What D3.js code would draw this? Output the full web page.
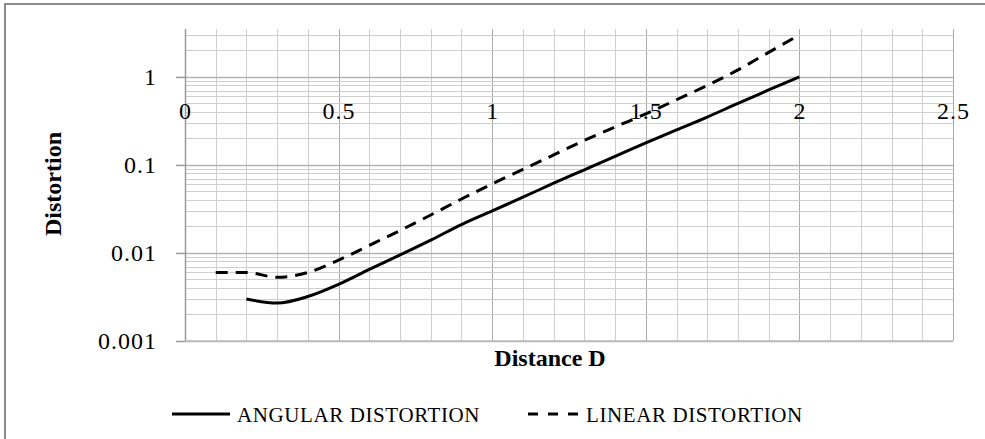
<!DOCTYPE html>
<html lang="en">
<head>
<meta charset="UTF-8">
<title>Distortion vs Distance</title>
<script src="https://d3js.org/d3.v7.min.js"></script>
<style>
  body { margin: 0; background: #fff; }
  text { font-family: "Liberation Serif", "Times New Roman", serif; fill: #000; }
</style>
</head>
<body>
<script>

    // data
    var distance = [0.1, 0.2, 0.3, 0.4, 0.5, 0.6, 0.7, 0.8, 0.9, 1.0,
                    1.1, 1.2, 1.3, 1.4, 1.5, 1.6, 1.7, 1.8, 1.9, 2.0];
    var angular = [null, 0.0030, 0.0027, 0.0032, 0.0044, 0.0065, 0.0095, 0.014, 0.021, 0.030,
                   0.043, 0.062, 0.088, 0.125, 0.178, 0.25, 0.35, 0.50, 0.71, 1.0];
    var linear = [0.0060, 0.0060, 0.0053, 0.0060, 0.0083, 0.0122, 0.018, 0.027, 0.041, 0.061,
                  0.089, 0.13, 0.19, 0.27, 0.38, 0.55, 0.80, 1.20, 1.90, 3.0];

    var xTicks = [0, 0.5, 1, 1.5, 2, 2.5];
    var xTickLabels = ['0', '0.5', '1', '1.5', '2', '2.5'];
    var yTicks = [0.001, 0.01, 0.1, 1];
    var yTickLabels = ['0.001', '0.01', '0.1', '1'];
    var seriesNames = ['ANGULAR DISTORTION', 'LINEAR DISTORTION'];

    var W = 985, H = 439;
    var svg = d3.select('body').append('svg')
        .attr('width', W)
        .attr('height', H);

    // chart border (only top/left visible in the crop)
    svg.append('rect')
        .attr('x', 5).attr('y', 4)
        .attr('width', 1000).attr('height', 500)
        .attr('fill', 'none')
        .attr('stroke', '#8c8c8c')
        .attr('stroke-width', 2);

    var x = d3.scaleLinear().domain([0, 2.5]).range([185, 953]);
    var y = d3.scaleLog().domain([0.001, 3.5]).range([341, 29]);

    // gridlines
    var grid = svg.append('g');
    var xMinor = d3.range(0, 26).map(function(i) { return i / 10; });
    grid.selectAll('line.vx')
        .data(xMinor)
        .enter().append('line')
        .attr('x1', function(d) { return Math.round(x(d)) + 0.5; })
        .attr('x2', function(d) { return Math.round(x(d)) + 0.5; })
        .attr('y1', y.range()[1])
        .attr('y2', y.range()[0])
        .attr('stroke', function(d) { return Math.abs(d * 2 - Math.round(d * 2)) < 1e-6 ? '#ababab' : '#cfcfcf'; })
        .attr('stroke-width', 1);

    var yMinor = [];
    [-3, -2, -1, 0].forEach(function(e) {
        for (var k = 1; k <= 9; k++) {
            var v = k * Math.pow(10, e);
            if (v <= 3.5) yMinor.push({ v: v, major: k === 1 });
        }
    });
    grid.selectAll('line.hy')
        .data(yMinor)
        .enter().append('line')
        .attr('x1', x.range()[0])
        .attr('x2', x.range()[1])
        .attr('y1', function(d) { return Math.round(y(d.v)) + 0.5; })
        .attr('y2', function(d) { return Math.round(y(d.v)) + 0.5; })
        .attr('stroke', function(d) { return d.major ? '#b4b4b4' : '#cfcfcf'; })
        .attr('stroke-width', function(d) { return d.major ? 1.5 : 1; });

    // plot frame
    svg.append('line')
        .attr('x1', 185.5).attr('x2', 185.5)
        .attr('y1', 29).attr('y2', 341)
        .attr('stroke', '#9a9a9a').attr('stroke-width', 1.5);
    svg.append('line')
        .attr('x1', 185).attr('x2', 953)
        .attr('y1', 341).attr('y2', 341)
        .attr('stroke', '#bdbdbd').attr('stroke-width', 1.5);

    // y axis
    var yAxis = svg.append('g')
        .attr('transform', 'translate(185,0)')
        .call(d3.axisLeft(y)
            .tickValues(yTicks)
            .tickFormat(function(d, i) { return yTickLabels[i]; })
            .tickSize(9)
            .tickSizeOuter(0)
            .tickPadding(19));
    yAxis.select('.domain').remove();
    yAxis.selectAll('.tick line').attr('stroke', '#9a9a9a').attr('stroke-width', 1.5);
    yAxis.selectAll('.tick text')
        .attr('font-family', '"Liberation Serif", serif')
        .attr('font-size', 24)
        .attr('letter-spacing', 1)
        .attr('fill', '#000');

    // x axis labels sit below the y=1 crossing
    var xAxis = svg.append('g')
        .attr('transform', 'translate(0,' + y(1) + ')')
        .call(d3.axisBottom(x)
            .tickValues(xTicks)
            .tickFormat(function(d, i) { return xTickLabels[i]; })
            .tickSize(0)
            .tickPadding(25));
    xAxis.select('.domain').remove();
    xAxis.selectAll('.tick text')
        .attr('font-family', '"Liberation Serif", serif')
        .attr('font-size', 24)
        .attr('letter-spacing', 1)
        .attr('fill', '#000');

    // series
    var line = d3.line()
        .defined(function(d) { return d[1] != null; })
        .x(function(d) { return x(d[0]); })
        .y(function(d) { return y(d[1]); })
        .curve(d3.curveMonotoneX);

    svg.append('path')
        .datum(distance.map(function(d, i) { return [d, linear[i]]; }))
        .attr('d', line)
        .attr('fill', 'none')
        .attr('stroke', '#000')
        .attr('stroke-width', 3)
        .attr('stroke-dasharray', '12,8');

    svg.append('path')
        .datum(distance.map(function(d, i) { return [d, angular[i]]; }))
        .attr('d', line)
        .attr('fill', 'none')
        .attr('stroke', '#000')
        .attr('stroke-width', 3);

    // axis titles
    svg.append('text')
        .attr('x', 550).attr('y', 366)
        .attr('text-anchor', 'middle')
        .attr('font-size', 24)
        .attr('font-weight', 'bold')
        .text('Distance D');

    svg.append('text')
        .attr('transform', 'translate(61,184) rotate(-90)')
        .attr('text-anchor', 'middle')
        .attr('font-size', 24)
        .attr('font-weight', 'bold')
        .text('Distortion');

    // legend
    var legend = svg.append('g');
    legend.append('line')
        .attr('x1', 172).attr('x2', 230)
        .attr('y1', 414).attr('y2', 414)
        .attr('stroke', '#000').attr('stroke-width', 3);
    legend.append('text')
        .attr('x', 237).attr('y', 421.5)
        .attr('font-size', 21)
        .attr('letter-spacing', 0.6)
        .text(seriesNames[0]);
    legend.append('line')
        .attr('x1', 528).attr('x2', 582)
        .attr('y1', 414).attr('y2', 414)
        .attr('stroke', '#000').attr('stroke-width', 3)
        .attr('stroke-dasharray', '10,10');
    legend.append('text')
        .attr('x', 586).attr('y', 421.5)
        .attr('font-size', 21)
        .attr('letter-spacing', 0.6)
        .text(seriesNames[1]);

</script>
</body>
</html>
